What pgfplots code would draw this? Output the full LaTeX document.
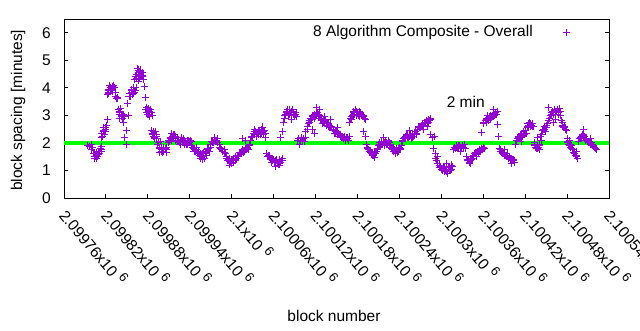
\documentclass[border=0pt]{standalone}
\usepackage{fontspec}
\setmainfont{Liberation Sans}
\usepackage{pgfplots}
\pgfplotsset{compat=1.18}
\definecolor{gpurple}{RGB}{148,0,211}
\definecolor{ggreen}{RGB}{0,255,0}
\newcommand{\sx}[1]{#1x10\kern0.3em\raisebox{0.4em}{\fontsize{13}{13}\selectfont 6}}
\begin{document}
\fontsize{15.5}{18}\selectfont
\begin{tikzpicture}
\path[use as bounding box] (0,0) rectangle (640pt,330pt);
\begin{axis}[
  at={(64pt,132pt)}, anchor=south west,
  scale only axis, width=545pt, height=179pt,
  xmin=0, xmax=780, ymin=0, ymax=6.5,
  xtick={0,60,...,780},
  xticklabels={\sx{2.09976},\sx{2.09982},\sx{2.09988},\sx{2.09994},\sx{2.1},\sx{2.10006},\sx{2.10012},\sx{2.10018},\sx{2.10024},\sx{2.1003},\sx{2.10036},\sx{2.10042},\sx{2.10048},\sx{2.10054}},
  xtick pos=bottom,
  ytick={0,1,2,3,4,5,6},
  yticklabel pos=left,
  tick align=inside,
  major tick length=4pt,
  every tick/.style={black, line width=0.9pt},
  axis line style={line width=0.9pt},
  /pgf/number format/assume math mode=true,
  tick label style={font=\fontsize{15.5}{18}\selectfont},
  xticklabel style={rotate=-50, anchor=west, inner sep=0pt},
  xticklabel shift=13pt,
  yticklabel style={inner sep=0pt, xshift=-13pt},
  xlabel={block number},
  ylabel={block spacing [minutes]},
  xlabel style={at={(axis description cs:0.4954,-0.659)}, anchor=center},
  ylabel style={at={(axis description cs:-0.0844,0.49)}, anchor=center},
  legend plot pos=right,
  legend style={at={(axis description cs:0.9486,0.927)}, anchor=east, draw=none, fill=none, inner sep=0pt, nodes={inner sep=0pt}},
]
\addplot[only marks, mark=+, color=gpurple, mark size=3.5pt, mark options={line width=0.9pt},
  legend image code/.code={\path[use as bounding box, draw=none, fill=none] (0pt,-4pt) rectangle (48pt,4pt); \path[draw=gpurple, line width=0.9pt] (30.5pt,0pt) -- (37.5pt,0pt) (34pt,-3.5pt) -- (34pt,3.5pt);}] coordinates {
(34,1.92)(37,1.88)(39,1.95)
(40,1.75)(42,1.6)(43,1.5)(44,1.45)(45,1.52)(46,1.55)(47,1.65)(49,1.58)(50,1.7)(52,1.8)(53,1.68)(54,1.88)
(53,2.2)(54,2.35)(56,2.4)(57,2.45)(58,2.3)(59,2.5)(60,2.55)(62,2.84)
(62,3.75)(63,3.9)(64,3.95)(66,4.0)(67,3.9)(69,4.05)(70,3.95)(72,4.0)(73,3.85)
(74,3.7)(75,3.62)(76,3.65)(77,3.6)
(78,3.2)(79,3.05)(80,3.1)(81,3.25)(82,2.95)(83,3.0)(84,2.9)(86,2.95)
(85,2.73)(87,2.19)(89,1.93)(90,2.44)(92,3.0)(91,3.42)
(93,3.7)(94,3.8)(95,3.7)(96,3.85)(97,3.9)(99,3.8)(100,3.95)(102,3.9)(103,4.0)
(101,4.3)(103,4.4)(104,4.5)(105,4.7)(106,4.55)(107,4.45)(108,4.35)(109,4.6)(110,4.5)(112,4.4)(113,4.45)(114,4.3)
(115,4.04)(116,3.64)
(117,3.2)(118,3.3)(119,3.1)(120,3.05)(121,3.25)(122,3.15)(123,3.0)(125,3.1)(126,2.98)
(125,2.45)(127,2.3)(128,2.25)(129,2.2)(130,2.3)(131,2.4)(132,2.15)(133,2.25)
(134,1.93)(135,2.0)(136,1.85)(137,1.8)(138,2.05)(139,1.75)(140,1.7)(142,1.75)(143,1.7)(145,1.8)(146,1.75)(147,1.85)
(149,2.0)(150,2.1)(152,2.15)(153,2.2)(154,2.35)(155,2.25)(156,2.2)(157,2.3)(159,2.15)(160,2.1)(162,2.2)
(163,2.05)(164,2.1)(166,1.95)(167,2.05)(168,2.2)(169,2.0)(170,2.1)(172,1.95)(173,2.05)(174,2.0)(176,2.1)(177,1.95)(179,2.05)(180,2.0)(182,1.9)(183,2.05)
(184,1.85)(185,1.8)(187,1.75)(188,1.7)(190,1.75)(191,1.6)(193,1.65)(194,1.55)(195,1.6)(196,1.5)(197,1.55)(198,1.4)(199,1.65)(200,1.5)(202,1.6)(203,1.7)(204,1.65)(206,1.75)(207,1.8)(209,1.85)
(210,1.95)(212,2.0)(213,2.05)(215,2.1)(216,2.1)(217,2.05)(219,2.15)(220,2.0)(222,1.95)
(223,1.85)(224,1.8)(226,1.75)(227,1.7)(229,1.75)(230,1.65)(231,1.6)
(232,1.5)(233,1.45)(235,1.4)(236,1.35)(237,1.2)(238,1.3)(239,1.4)(240,1.25)(242,1.35)(243,1.45)(245,1.4)(246,1.5)(247,1.45)(249,1.55)
(250,1.55)(252,1.6)(253,1.65)(255,1.7)(256,1.75)(257,1.65)(259,1.8)(260,1.75)(262,1.85)(263,1.8)(265,1.9)(266,1.95)
(255,2.15)(260,2.1)
(267,2.1)(268,2.2)(269,2.25)(271,2.35)(272,2.4)(273,2.3)(275,2.35)(276,2.25)(278,2.4)(279,2.3)(280,2.45)(282,2.35)(283,2.5)(284,2.58)(285,2.4)(286,2.3)(288,2.2)(289,2.35)
(290,1.6)(292,1.55)(293,1.5)(295,1.45)(296,1.4)(297,1.45)(299,1.35)(300,1.4)(302,1.3)(302,1.15)(303,1.35)(305,1.25)(306,1.3)(308,1.4)(309,1.2)(310,1.3)(312,1.45)(313,1.35)
(310,2.2)(313,2.4)
(314,2.75)(315,2.9)(316,3.0)(318,3.1)(319,3.15)(320,3.1)(322,3.2)(323,3.05)(325,3.15)(326,3.1)(326,2.84)(327,3.2)(329,3.05)(330,3.0)(332,3.1)(333,2.95)
(334,2.1)(336,2.15)(337,1.95)(338,2.1)(340,2.2)(341,2.1)(343,2.15)(344,2.05)(345,2.2)
(346,2.4)(348,2.5)(349,2.6)(350,2.7)(352,2.8)(353,2.9)(355,2.95)(356,3.0)(356,2.5)(358,2.9)(359,3.05)(359,2.35)(360,2.95)(361,3.3)(362,3.0)(363,3.1)(365,3.0)(366,3.2)
(367,2.9)(368,2.85)(369,2.8)(371,2.75)(372,2.8)(373,2.7)(373,2.95)(375,2.75)(376,2.65)(378,2.7)(379,2.6)(380,2.65)(381,2.85)(382,2.55)(383,2.6)
(385,2.5)(386,2.45)(388,2.4)(389,2.35)(390,2.4)(392,2.3)(392,2.55)(393,2.35)(395,2.25)(396,2.3)(398,2.2)(399,2.25)(400,2.15)(402,2.2)(403,2.1)(405,2.2)(406,2.15)(408,2.25)
(409,2.75)(410,2.9)(412,2.95)(413,3.0)(415,3.1)(416,3.05)(417,3.2)(418,3.15)(419,3.0)(420,3.1)(422,3.05)(423,3.15)(425,3.0)(426,3.05)(428,2.95)(429,3.0)(430,2.9)(432,2.85)
(429,2.4)(432,2.25)
(433,1.95)(435,1.85)(436,1.75)(438,1.7)(439,1.65)(440,1.6)(442,1.65)(443,1.55)(444,1.48)(445,1.7)(446,1.6)(448,1.75)(449,1.8)
(450,1.9)(451,1.95)(452,2.0)(453,1.9)(455,2.05)(456,1.95)(457,2.2)(458,2.0)(459,1.9)(460,2.05)(462,2.0)(463,1.95)(465,2.1)(466,2.0)(467,1.95)
(468,1.85)(469,1.8)(470,1.75)(472,1.7)(473,1.75)(474,1.6)(475,1.65)(476,1.8)(478,1.7)(479,1.75)(480,1.85)(482,1.8)(483,1.9)
(484,2.05)(485,2.1)(486,2.15)(488,2.2)(489,2.25)(491,2.2)(492,2.3)(493,2.2)(494,2.45)(495,2.25)(496,2.3)(498,2.2)(499,2.3)(501,2.35)(502,2.3)(503,2.4)(505,2.35)
(506,2.5)(508,2.55)(509,2.6)(511,2.65)(512,2.6)(513,2.7)(514,2.5)(515,2.65)(516,2.75)(518,2.7)(519,2.8)(520,2.6)(521,2.75)(522,2.85)(523,2.8)(525,2.9)
(524,2.3)(527,2.2)(530,2.25)
(529,1.8)(531,1.6)(532,1.45)(533,1.35)(534,1.5)(535,1.25)
(537,1.2)(538,1.1)(539,1.15)(541,1.05)(542,1.0)(543,1.1)(545,0.95)(546,1.05)(547,1.25)(548,1.0)(549,0.9)(551,1.05)(552,1.1)(553,1.0)(555,1.2)(556,1.15)
(558,1.75)(559,1.85)(560,1.8)(562,1.9)(563,1.85)(565,1.8)(566,1.9)(567,1.85)(568,1.7)(569,1.8)(570,1.9)(572,1.85)(573,1.95)(574,1.8)
(576,1.5)(577,1.4)(578,1.35)(580,1.3)(581,1.25)(583,1.4)(584,1.45)
(585,1.5)(586,1.55)(588,1.6)(589,1.65)(590,1.5)(591,1.6)(592,1.7)(593,1.65)(595,1.75)(596,1.7)(597,2.37)(598,1.8)(599,1.75)(601,1.85)(602,1.8)
(600,2.7)(601,2.75)(603,2.8)(604,2.75)(606,2.85)(606,3.0)(607,2.9)(609,2.95)(610,2.85)(611,3.0)(613,2.95)(614,3.05)(615,3.2)(616,3.0)(617,3.1)(619,3.05)(620,3.15)
(621,2.66)(622,2.22)
(623,1.8)(625,1.75)(626,1.7)(628,1.65)(629,1.6)(630,1.65)(631,1.75)(632,1.55)(633,1.5)(635,1.55)(636,1.45)(638,1.5)(639,1.4)(640,1.45)(641,1.25)(642,1.35)(643,1.4)(645,1.3)
(646,1.93)(648,2.1)(649,2.15)(651,2.2)(652,2.25)(653,2.3)(654,2.05)(655,2.35)(656,2.25)(658,2.4)(659,2.3)(661,2.45)(662,2.35)
(663,2.55)(664,2.6)(665,2.65)(666,2.75)(667,2.7)(668,2.6)(669,2.65)(671,2.7)(672,2.6)
(673,2.0)(674,1.9)(675,1.85)(676,1.8)(677,2.2)(678,1.9)(679,1.85)(680,1.75)(681,1.95)
(682,2.25)(683,2.1)(684,2.3)
(685,2.45)(687,2.5)(688,2.6)(689,2.4)(690,2.55)(691,2.65)(692,2.7)(694,2.8)
(693,3.3)(695,2.9)(696,3.0)(697,3.1)(698,3.05)(699,3.15)(700,2.75)(701,3.1)(702,3.2)(703,2.85)(704,3.05)(705,3.15)(706,3.2)(708,3.1)(709,3.25)(711,3.0)
(712,2.8)(713,2.65)(714,2.75)(715,2.55)(716,2.6)(718,2.5)(719,2.45)
(720,2.15)(721,2.05)(722,1.95)(723,1.9)(724,2.1)(725,1.85)(726,1.9)(727,1.8)
(728,1.75)(729,1.65)(731,1.6)(732,1.55)(733,1.7)(734,1.5)(735,1.45)
(736,2.05)(738,2.15)(739,2.2)(741,2.25)(742,2.3)(743,2.2)(744,2.48)(745,2.25)
(746,2.15)(747,2.1)(749,2.05)(750,2.0)(752,2.05)(753,1.95)(754,2.15)(755,2.0)(756,1.9)(757,1.95)(759,1.85)(760,1.8)(762,1.75)
(41,1.82)(44,1.6)(46,1.42)(48,1.5)(51,1.62)(53,1.78)
(55,2.25)(57,2.55)(59,2.4)(61,2.62)
(63,3.8)(65,4.1)(68,3.95)(71,4.1)(64,3.82)(70,3.85)
(79,3.15)(82,3.05)(85,3.05)(80,2.9)
(94,3.68)(96,3.95)(98,3.75)(101,3.85)(99,4.0)
(102,4.4)(104,4.35)(106,4.65)(108,4.55)(110,4.65)(111,4.4)(107,4.25)(112,4.55)
(118,3.1)(120,3.2)(122,2.95)(124,3.2)(121,3.05)
(126,2.35)(128,2.4)(130,2.15)(132,2.3)
(137,1.65)(140,1.85)(143,1.85)(146,1.65)(141,1.65)
(151,2.05)(154,2.1)(157,2.15)(160,2.25)(158,2.3)
(165,2.0)(171,2.0)(175,1.95)(178,2.1)(181,2.1)(171,2.15)
(186,1.7)(189,1.85)(192,1.7)(195,1.45)(198,1.6)(201,1.45)(204,1.55)(205,1.8)(208,1.7)(200,1.65)
(211,2.05)(214,2.0)(218,2.1)(216,2.2)
(234,1.35)(237,1.45)(239,1.3)(241,1.4)(243,1.3)(246,1.38)(248,1.5)
(251,1.65)(254,1.6)(258,1.7)(261,1.85)(264,1.75)
(270,2.25)(274,2.4)(277,2.35)(281,2.3)(284,2.4)(287,2.45)(273,2.5)(279,2.45)
(291,1.5)(294,1.55)(298,1.4)(301,1.3)(304,1.4)(307,1.2)(311,1.35)(297,1.3)
(317,3.05)(320,3.2)(324,3.1)(328,3.1)(331,3.05)(321,3.0)
(351,2.75)(354,2.85)(357,2.95)(361,3.1)(364,3.05)
(370,2.7)(374,2.85)(377,2.7)(380,2.55)
(387,2.35)(391,2.4)(394,2.3)(397,2.2)(401,2.25)(404,2.2)(407,2.1)
(411,2.85)(414,3.05)(418,3.05)(421,3.0)(424,3.1)(427,2.95)(414,3.15)(423,2.95)
(434,1.8)(437,1.7)(441,1.55)(444,1.62)(447,1.7)
(454,1.95)(457,2.05)(461,1.95)(464,2.05)(466,1.9)
(471,1.85)(474,1.7)(477,1.65)(481,1.75)
(487,2.2)(490,2.3)(494,2.3)(497,2.15)(500,2.25)(504,2.3)
(507,2.6)(510,2.55)(513,2.62)(517,2.7)(520,2.72)(524,2.85)
(540,1.05)(544,1.0)(547,0.95)(550,1.1)(554,1.05)(544,1.15)
(561,1.85)(564,1.9)(568,1.85)(571,1.8)
(579,1.4)(582,1.35)(587,1.6)(594,1.7)(597,1.8)(600,1.8)
(605,2.9)(608,2.8)(612,2.95)(615,3.0)(618,3.05)
(624,1.7)(627,1.6)(630,1.55)(634,1.6)(637,1.5)(641,1.4)(644,1.35)
(650,2.25)(653,2.2)(657,2.3)(660,2.35)
(664,2.7)(667,2.6)(670,2.6)
(674,1.95)(677,1.8)(680,1.9)
(686,2.5)(690,2.65)(697,3.0)(700,3.05)(704,3.15)(707,3.05)(710,3.15)
(713,2.6)(717,2.55)(721,2.0)(725,1.95)
(730,1.6)(733,1.55)
(740,2.2)(743,2.3)(748,2.15)(751,2.0)(755,1.95)(758,1.9)
};
\addlegendentry{8 Algorithm Composite - Overall}
\addplot[ggreen, line width=3.6pt, forget plot] coordinates {(0,2) (780,2)};
\node at (axis cs:575,3.5) {2 min};
\end{axis}
\end{tikzpicture}
\end{document}
